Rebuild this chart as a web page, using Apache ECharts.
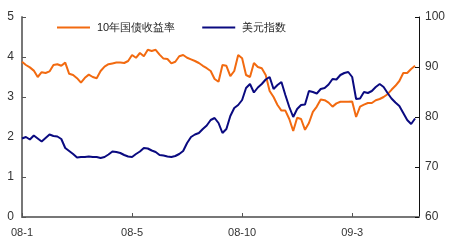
<!DOCTYPE html>
<html><head><meta charset="utf-8">
<script src="https://cdn.jsdelivr.net/npm/echarts@6/dist/echarts.min.js"></script>
<style>html,body{margin:0;padding:0;background:#fff}#c{width:450px;height:250px}</style>
</head><body><div id="c"></div>
<script>
var seriesNames = ['10年国债收益率', '美元指数'];
var tickLabels = ['08-1', '08-5', '08-10', '09-3'];
var tickIndex = [0, 28, 56, 84];
var yield10 = [3.88,3.80,3.74,3.66,3.50,3.62,3.60,3.64,3.80,3.82,3.78,3.86,3.58,3.55,3.47,3.36,3.48,3.56,3.50,3.47,
3.65,3.76,3.82,3.84,3.86,3.86,3.85,3.90,4.05,3.98,4.10,4.02,4.18,4.15,4.18,4.06,3.96,3.95,3.84,3.88,
4.02,4.05,3.98,3.94,3.90,3.85,3.78,3.72,3.65,3.45,3.38,3.80,3.78,3.52,3.65,4.05,3.97,3.55,3.50,3.85,
3.75,3.72,3.55,3.15,3.00,2.80,2.66,2.66,2.45,2.15,2.48,2.45,2.18,2.35,2.63,2.76,2.94,2.92,2.86,2.76,
2.84,2.88,2.88,2.88,2.89,2.50,2.76,2.81,2.85,2.85,2.92,2.95,3.00,3.07,3.18,3.28,3.40,3.60,3.60,3.70,
3.78,null];
var usdIndex = [75.7,76.0,75.5,76.3,75.7,75.1,75.8,76.5,76.2,76.1,75.6,73.8,73.2,72.6,71.9,72.0,72.0,72.1,72.0,72.0,
71.8,72.0,72.5,73.1,73.0,72.8,72.4,72.1,72.0,72.6,73.1,73.8,73.7,73.3,73.0,72.4,72.3,72.1,72.0,72.2,
72.6,73.2,74.8,76.0,76.5,76.8,77.6,78.3,79.4,79.8,78.8,76.8,77.6,80.2,81.8,82.4,83.4,85.8,86.6,84.9,
85.9,86.6,87.5,88.0,85.6,86.4,87.0,84.4,82.0,80.0,81.6,82.4,82.5,85.2,85.0,84.7,85.6,85.8,86.5,87.6,
87.5,88.4,88.8,89.0,88.0,83.6,83.7,85.0,84.8,85.2,86.0,86.6,86.0,84.8,83.7,82.9,82.2,80.8,79.4,78.6,
79.7,null];
var categories = [];
for (var i = 0; i < yield10.length; i++) categories.push(i);

var font = 'Liberation Sans, Arial, sans-serif';
function isTick(idx){ return tickIndex.indexOf(idx) >= 0; }
var chart = echarts.init(document.getElementById('c'), null, {renderer:'canvas'});
chart.setOption({
  animation: false,
  backgroundColor: '#fff',
  legend: {
    top: 17, left: 52, itemGap: 27, itemWidth: 33, itemHeight: 2, icon: 'rect',
    textStyle: {fontSize: 11, color: '#222', fontFamily: font, padding: [0,0,0,2]},
    data: seriesNames
  },
  grid: {left: 22, right: 31, top: 17, bottom: 33, containLabel: false},
  xAxis: {
    type: 'category', data: categories, boundaryGap: false,
    axisLine: {lineStyle: {color: '#777', width: 2}},
    axisTick: {inside: true, length: 4, interval: function(i){return isTick(i);}, lineStyle: {color: '#555'}},
    axisLabel: {interval: function(i){return isTick(i);}, formatter: function(v){ return tickLabels[tickIndex.indexOf(+v)] || ''; },
      fontSize: 11, color: '#333', fontFamily: font, margin: 10},
    splitLine: {show: false}
  },
  yAxis: [{
    type: 'value', min: 0, max: 5, interval: 1,
    axisLine: {show: true, lineStyle: {color: '#777', width: 2}},
    axisTick: {show: true, inside: true, length: 4, lineStyle: {color: '#555'}},
    axisLabel: {fontSize: 12, color: '#333', fontFamily: font, margin: 8},
    splitLine: {show: false}
  }, {
    type: 'value', min: 60, max: 100, interval: 10, position: 'right',
    axisLine: {show: true, lineStyle: {color: '#111', width: 1}},
    axisTick: {show: true, inside: true, length: 4, lineStyle: {color: '#111'}},
    axisLabel: {fontSize: 12, color: '#333', fontFamily: font, margin: 6},
    splitLine: {show: false}
  }],
  series: [{
    name: seriesNames[0], type: 'line', yAxisIndex: 0, data: yield10,
    symbol: 'none', lineStyle: {color: '#F26A10', width: 2}, itemStyle: {color: '#F26A10'}
  }, {
    name: seriesNames[1], type: 'line', yAxisIndex: 1, data: usdIndex,
    symbol: 'none', lineStyle: {color: '#0A0A80', width: 2}, itemStyle: {color: '#0A0A80'}
  }]
});
</script></body></html>
